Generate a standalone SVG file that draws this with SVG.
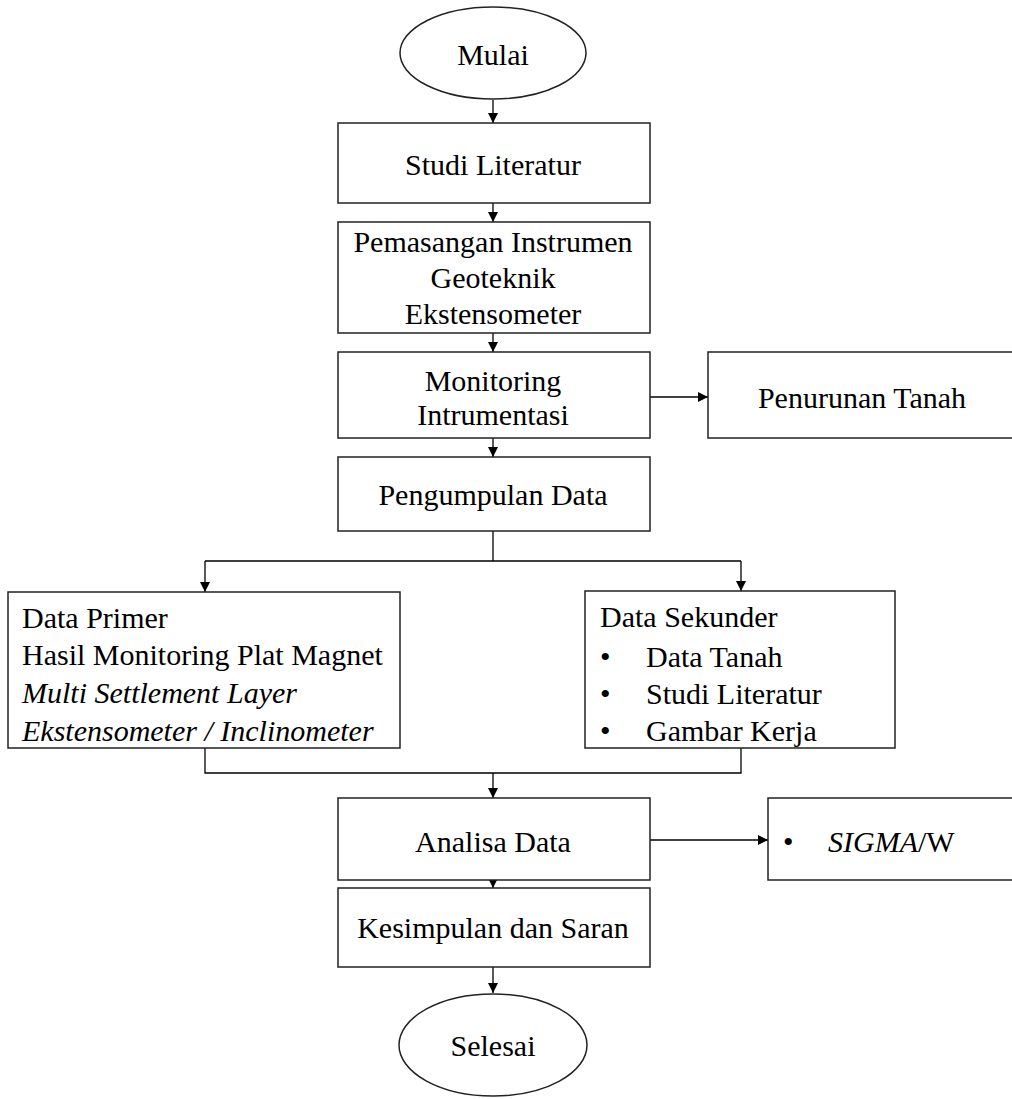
<svg xmlns="http://www.w3.org/2000/svg" width="1012" height="1099" viewBox="0 0 1012 1099">
<defs>
<marker id="ah" viewBox="0 0 10 10" refX="10" refY="5" markerWidth="10" markerHeight="10" markerUnits="userSpaceOnUse" orient="auto">
<path d="M0,0 L10,5 L0,10 z" fill="#000"/>
</marker>
<style>
.n{fill:#fff;stroke:#222;stroke-width:1.5}
.t{font-family:"Liberation Serif","Times New Roman",serif;font-size:30px;fill:#000}
.c{text-anchor:middle}
.i{font-style:italic}
.e{fill:none;stroke:#000;stroke-width:1.3}
</style>
</defs>
<rect width="1012" height="1099" fill="#fff"/>
<g id="connectors">
<path class="e" d="M493,100 V123" marker-end="url(#ah)"/>
<path class="e" d="M493,203 V222" marker-end="url(#ah)"/>
<path class="e" d="M493,333 V352" marker-end="url(#ah)"/>
<path class="e" d="M650,397 H708" marker-end="url(#ah)"/>
<path class="e" d="M493,438 V457" marker-end="url(#ah)"/>
<path class="e" d="M493,531 V561 M205,561 H741"/>
<path class="e" d="M205,561 V592" marker-end="url(#ah)"/>
<path class="e" d="M741,561 V591" marker-end="url(#ah)"/>
<path class="e" d="M205,748 V773 H741 V748"/>
<path class="e" d="M493,773 V798" marker-end="url(#ah)"/>
<path class="e" d="M650,840 H768" marker-end="url(#ah)"/>
<path class="e" d="M493,876 V888" marker-end="url(#ah)"/>
<path class="e" d="M493,967 V993" marker-end="url(#ah)"/>
</g>
<g id="mulai"><ellipse class="n" cx="493" cy="53" rx="93" ry="46"/><text class="t c" x="493" y="65">Mulai</text></g>
<g id="studi"><rect class="n" x="338" y="123" width="312" height="80"/><text class="t c" x="493" y="175">Studi Literatur</text></g>
<g id="pemasangan"><rect class="n" x="338" y="222" width="312" height="111"/>
<text class="t c" x="493" y="252">Pemasangan Instrumen</text>
<text class="t c" x="493" y="288">Geoteknik</text>
<text class="t c" x="493" y="324">Ekstensometer</text></g>
<g id="monitoring"><rect class="n" x="338" y="352" width="312" height="86"/>
<text class="t c" x="493" y="391">Monitoring</text>
<text class="t c" x="493" y="425">Intrumentasi</text></g>
<g id="penurunan"><rect class="n" x="708" y="352" width="310" height="86"/>
<text class="t c" x="862" y="408">Penurunan Tanah</text></g>
<g id="pengumpulan"><rect class="n" x="338" y="457" width="312" height="74"/>
<text class="t c" x="493" y="505">Pengumpulan Data</text></g>
<g id="primer"><rect class="n" x="8" y="592" width="392" height="156"/>
<text class="t" x="22" y="628">Data Primer</text>
<text class="t" x="22" y="665">Hasil Monitoring Plat Magnet</text>
<text class="t i" x="22" y="703">Multi Settlement Layer</text>
<text class="t i" x="22" y="741">Ekstensometer / Inclinometer</text></g>
<g id="sekunder"><rect class="n" x="585" y="591" width="310" height="157"/>
<text class="t" x="600" y="627">Data Sekunder</text>
<text class="t" x="600" y="667">•</text><text class="t" x="646" y="667">Data Tanah</text>
<text class="t" x="600" y="704">•</text><text class="t" x="646" y="704">Studi Literatur</text>
<text class="t" x="600" y="741">•</text><text class="t" x="646" y="741">Gambar Kerja</text></g>
<g id="analisa"><rect class="n" x="338" y="798" width="312" height="82"/>
<text class="t c" x="493" y="852">Analisa Data</text></g>
<g id="sigma"><rect class="n" x="768" y="798" width="250" height="82"/>
<text class="t" x="783" y="852">•</text><text class="t" x="828" y="852"><tspan class="i">SIGMA</tspan>/W</text></g>
<g id="kesimpulan"><rect class="n" x="338" y="888" width="312" height="79"/>
<text class="t c" x="493" y="938">Kesimpulan dan Saran</text></g>
<g id="selesai"><ellipse class="n" cx="493" cy="1045" rx="94" ry="51"/>
<text class="t c" x="493" y="1056">Selesai</text></g>
</svg>
